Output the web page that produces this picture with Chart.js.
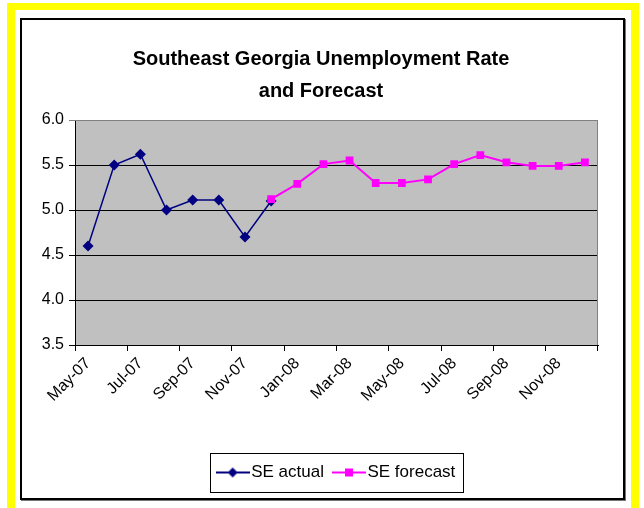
<!DOCTYPE html>
<html>
<head>
<meta charset="utf-8">
<script src="https://cdn.jsdelivr.net/npm/chart.js@4"></script>
<style>
  body { margin: 0; background: #fff; width: 644px; height: 508px; overflow: hidden; position: relative; }
  .frame { position: absolute; left: 7px; top: 3px; width: 632px; height: 520px; background: #ffff00; }
  .inner { position: absolute; left: 15px; top: 10px; width: 616px; height: 520px; background: #fff; }
  .edge { position: absolute; left: 20px; top: 18px; width: 601px; height: 478px; border: 2px solid #000; box-shadow: 1px 1px 0 #777; }
  canvas { position: absolute; left: 0; top: 0; }
</style>
</head>
<body>
<div class="frame"></div>
<div class="inner"></div>
<div class="edge"></div>
<canvas id="rateChart" width="644" height="508"></canvas>
<script>
// months shown on the category axis
const months = ['May-07', 'Jun-07', 'Jul-07', 'Aug-07', 'Sep-07', 'Oct-07', 'Nov-07', 'Dec-07',
    'Jan-08', 'Feb-08', 'Mar-08', 'Apr-08', 'May-08', 'Jun-08', 'Jul-08', 'Aug-08',
    'Sep-08', 'Oct-08', 'Nov-08', 'Dec-08'];

// unemployment rate, %
const seActual = [4.6, 5.5, 5.62, 5.0, 5.11, 5.11, 4.7, 5.1,
    null, null, null, null, null, null, null, null, null, null, null, null];
const seForecast = [null, null, null, null, null, null, null, 5.12,
    5.29, 5.51, 5.55, 5.30, 5.30, 5.34, 5.51, 5.61, 5.53, 5.49, 5.49, 5.53];

const yTicks = [3.5, 4.0, 4.5, 5.0, 5.5, 6.0];

const navy = '#000080';
const magenta = '#ff00ff';
const sans = "'Liberation Sans', Arial, sans-serif";

// little line + marker icons for the legend
function legendIcon(color, shape) {
    const c = document.createElement('canvas');
    c.width = 34;
    c.height = 14;
    const g = c.getContext('2d');
    g.strokeStyle = color;
    g.lineWidth = 2;
    g.beginPath();
    g.moveTo(0, 7);
    g.lineTo(34, 7);
    g.stroke();
    g.fillStyle = color;
    g.beginPath();
    if (shape === 'diamond') {
        g.moveTo(17, 2); g.lineTo(22, 7); g.lineTo(17, 12); g.lineTo(12, 7);
    } else {
        g.rect(13, 3, 8, 8);
    }
    g.closePath();
    g.fill();
    return c;
}
const icons = [legendIcon(navy, 'diamond'), legendIcon(magenta, 'square')];

const plotDecor = {
    id: 'plotDecor',
    beforeDraw(chart) {
        const { ctx, chartArea: a } = chart;
        ctx.save();
        ctx.fillStyle = '#c0c0c0';
        ctx.fillRect(a.left, a.top, a.right - a.left, a.bottom - a.top);
        ctx.restore();

        // title is centred a bit right of the padded box
        const tb = chart.titleBlock;
        if (tb) {
            const dx = 321 - (tb.left + tb.right) / 2;
            tb.left += dx;
            tb.right += dx;
        }

        // nudge the legend to sit where the reference has it
        const lg = chart.legend;
        if (lg && lg.legendHitBoxes.length) {
            const boxes = lg.legendHitBoxes;
            const l = boxes[0].left;
            const r = boxes[boxes.length - 1].left + boxes[boxes.length - 1].width;
            const dx = Math.round(336 - (l - 13 + r + 7) / 2);
            if (dx !== 0) {
                lg.left += dx;
                lg.right += dx;
                boxes.forEach(b => b.left += dx);
            }
        }
    },
    beforeDatasetsDraw(chart) {
        const { ctx, chartArea: a } = chart;
        ctx.save();
        ctx.strokeStyle = '#808080';
        ctx.lineWidth = 1;
        ctx.beginPath();
        ctx.moveTo(a.left, a.top + 0.5);
        ctx.lineTo(a.right - 0.5, a.top + 0.5);
        ctx.lineTo(a.right - 0.5, a.bottom);
        ctx.stroke();
        ctx.restore();
    },
    afterDraw(chart) {
        const lg = chart.legend;
        if (!lg || !lg.legendHitBoxes.length) return;
        const boxes = lg.legendHitBoxes;
        const l = boxes[0].left - 13;
        const last = boxes[boxes.length - 1];
        const r = last.left + last.width + 7;
        const t = boxes[0].top - 11;
        const b = boxes[0].top + boxes[0].height + 11;
        const ctx = chart.ctx;
        ctx.save();
        ctx.strokeStyle = '#000';
        ctx.lineWidth = 1;
        ctx.strokeRect(Math.round(l) + 0.5, Math.round(t) + 0.5, Math.round(r - l), Math.round(b - t));
        ctx.restore();
    }
};

const tickFont = { family: sans, size: 16 };

new Chart(document.getElementById('rateChart'), {
    type: 'line',
    data: {
        labels: months,
        datasets: [{
            label: 'SE actual',
            data: seActual,
            order: 1,
            borderColor: navy,
            backgroundColor: navy,
            borderWidth: 1.5,
            pointStyle: 'rectRot',
            pointRadius: 5.5,
            pointBorderWidth: 0,
            pointBackgroundColor: navy,
            tension: 0,
            spanGaps: false
        }, {
            label: 'SE forecast',
            data: seForecast,
            order: 0,
            borderColor: magenta,
            backgroundColor: magenta,
            borderWidth: 2,
            pointStyle: 'rect',
            pointRadius: 5.5,
            pointBorderWidth: 0,
            pointBackgroundColor: magenta,
            tension: 0,
            spanGaps: false
        }]
    },
    options: {
        responsive: false,
        animation: false,
        layout: { padding: { left: 20, right: 46, top: 0, bottom: 17 } },
        plugins: {
            tooltip: { enabled: false },
            title: {
                display: true,
                text: ['Southeast Georgia Unemployment Rate', 'and Forecast'],
                color: '#000',
                font: { family: sans, size: 20, weight: 'bold', lineHeight: '32px' },
                padding: { top: 43, bottom: 13 }
            },
            legend: {
                position: 'bottom',
                labels: {
                    color: '#000',
                    font: { family: sans, size: 17 },
                    usePointStyle: true,
                    pointStyleWidth: 20,
                    padding: 15,
                    sort: (a, b) => a.datasetIndex - b.datasetIndex,
                    generateLabels(chart) {
                        const items = Chart.defaults.plugins.legend.labels.generateLabels(chart);
                        items.forEach(it => { it.pointStyle = icons[it.datasetIndex]; });
                        return items;
                    }
                }
            }
        },
        scales: {
            x: {
                offset: true,
                afterFit(scale) { scale.height = 104; },
                grid: {
                    offset: true,
                    drawOnChartArea: false,
                    drawTicks: true,
                    tickLength: 6,
                    color: ctx => (ctx.index === undefined || ctx.index % 2 === 0) ? '#000' : 'rgba(0,0,0,0)'
                },
                border: { display: true, color: '#000', width: 1 },
                ticks: {
                    autoSkip: false,
                    maxRotation: 45,
                    minRotation: 45,
                    padding: 3,
                    color: '#000',
                    font: tickFont,
                    callback(v, i) { return i % 2 === 0 ? months[i] : ''; }
                }
            },
            y: {
                min: yTicks[0],
                max: yTicks[yTicks.length - 1],
                afterFit(scale) { scale.width = 55; },
                afterBuildTicks(scale) { scale.ticks = yTicks.map(v => ({ value: v })); },
                grid: {
                    color: ctx => ctx.tick && ctx.tick.value === 6 ? '#808080' : '#000',
                    lineWidth: 1,
                    tickLength: 6
                },
                border: { display: true, color: '#000', width: 1 },
                ticks: {
                    padding: 5,
                    color: '#000',
                    font: tickFont,
                    callback(v) { return v.toFixed(1); }
                }
            }
        }
    },
    plugins: [plotDecor]
});
</script>
</body>
</html>
